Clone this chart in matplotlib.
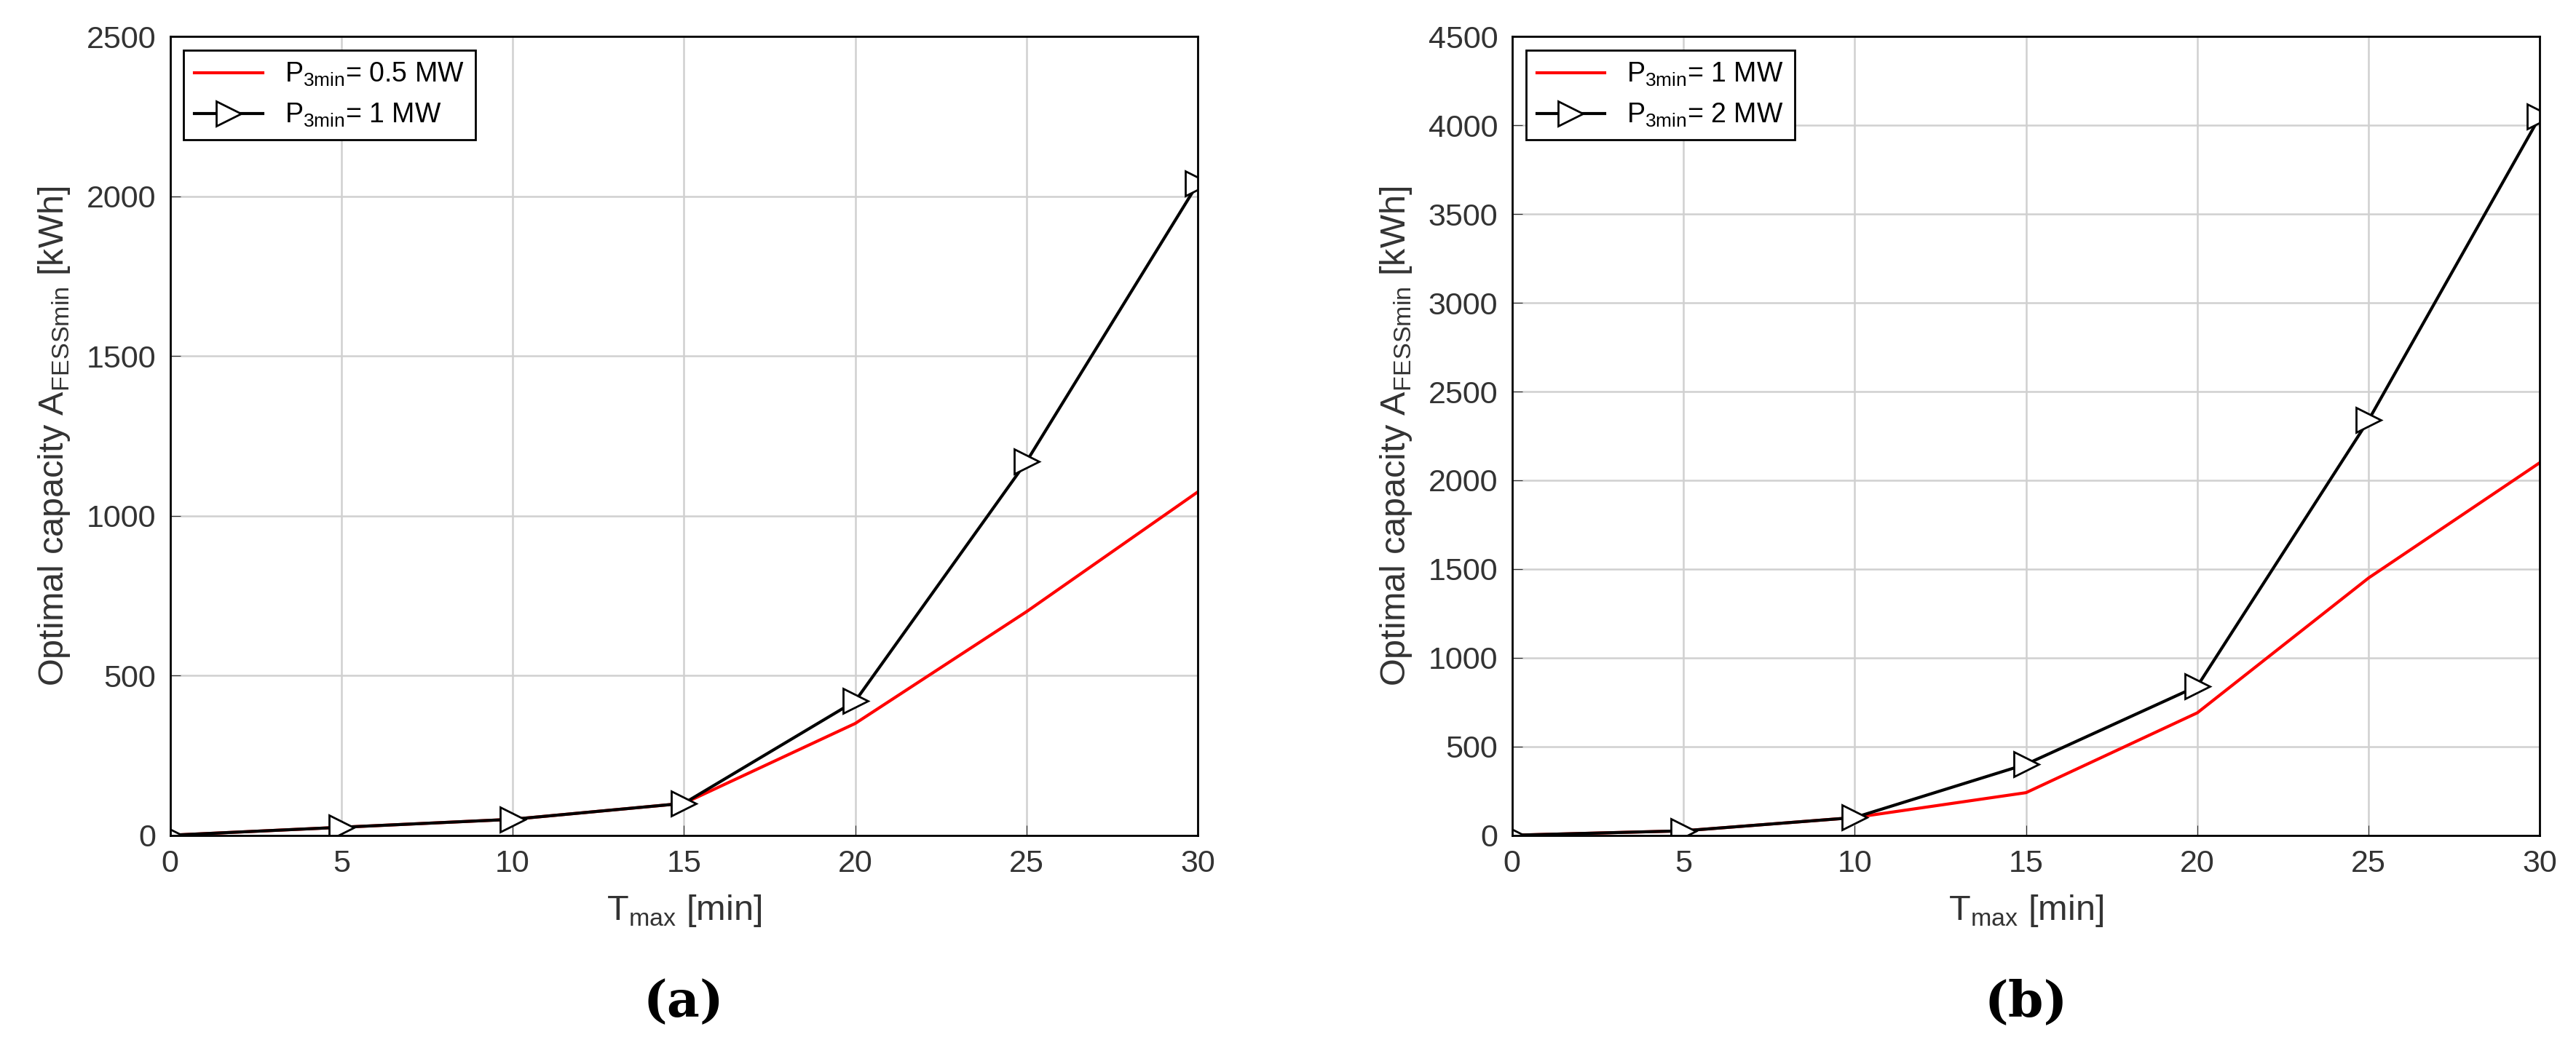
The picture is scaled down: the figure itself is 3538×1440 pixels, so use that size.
import numpy as np
import matplotlib.pyplot as plt

t = [0, 5, 10, 15, 20, 25, 30]
a_red = [0, 25, 50, 100, 350, 700, 1075]
a_black = [0, 25, 50, 100, 420, 1170, 2040]
b_red = [0, 25, 100, 240, 690, 1450, 2100]
b_black = [0, 25, 100, 400, 840, 2340, 4050]

plt.rcParams['font.family'] = ['Liberation Sans', 'DejaVu Sans']
fs = 31

fig = plt.figure(figsize=(35.38, 14.4), dpi=100)
ax1 = fig.add_axes([0.066, 0.203, 0.399, 0.762])
ax2 = fig.add_axes([0.587, 0.203, 0.399, 0.762])

panels = [
    (ax1, a_red, a_black, 2500, 500, ['0.5 MW', '1 MW'], '(a)'),
    (ax2, b_red, b_black, 4500, 500, ['1 MW', '2 MW'], '(b)'),
]
for ax, r, k, ymax, step, labs, tag in panels:
    ax.plot(t, r, color='red', lw=3, label=r'P$_{\mathregular{3min}}$= ' + labs[0])
    ax.plot(t, k, color='black', lw=3, marker='>', markersize=24, markerfacecolor='white',
            markeredgewidth=2, label=r'P$_{\mathregular{3min}}$= ' + labs[1])
    ax.set_xlim(0, 30)
    ax.set_ylim(0, ymax)
    ax.set_xticks(t)
    ax.set_yticks(np.arange(0, ymax + 1, step))
    ax.grid(True, color='#d0d0d0', lw=1.8)
    ax.tick_params(labelsize=fs, colors='#333333', direction='in', length=10, pad=14)
    for s in ax.spines.values():
        s.set_linewidth(2)
    ax.set_xlabel(r'T$_{\mathregular{max}}$ [min]', fontsize=fs + 4, color='#333333', labelpad=14)
    ax.set_ylabel(r'Optimal capacity A$_{\mathregular{FESSmin}}$ [kWh]', fontsize=fs + 4,
                  color='#333333', labelpad=14)
    leg = ax.legend(loc='upper left', fontsize=fs - 4, fancybox=False, edgecolor='black',
                    framealpha=1, handlelength=2.5)
    leg.get_frame().set_linewidth(2)
    ax.text(0.5, -0.21, tag, transform=ax.transAxes, ha='center', va='center',
            fontsize=50, fontweight='bold', family='DejaVu Serif')

fig.savefig('out.png', dpi=100)
